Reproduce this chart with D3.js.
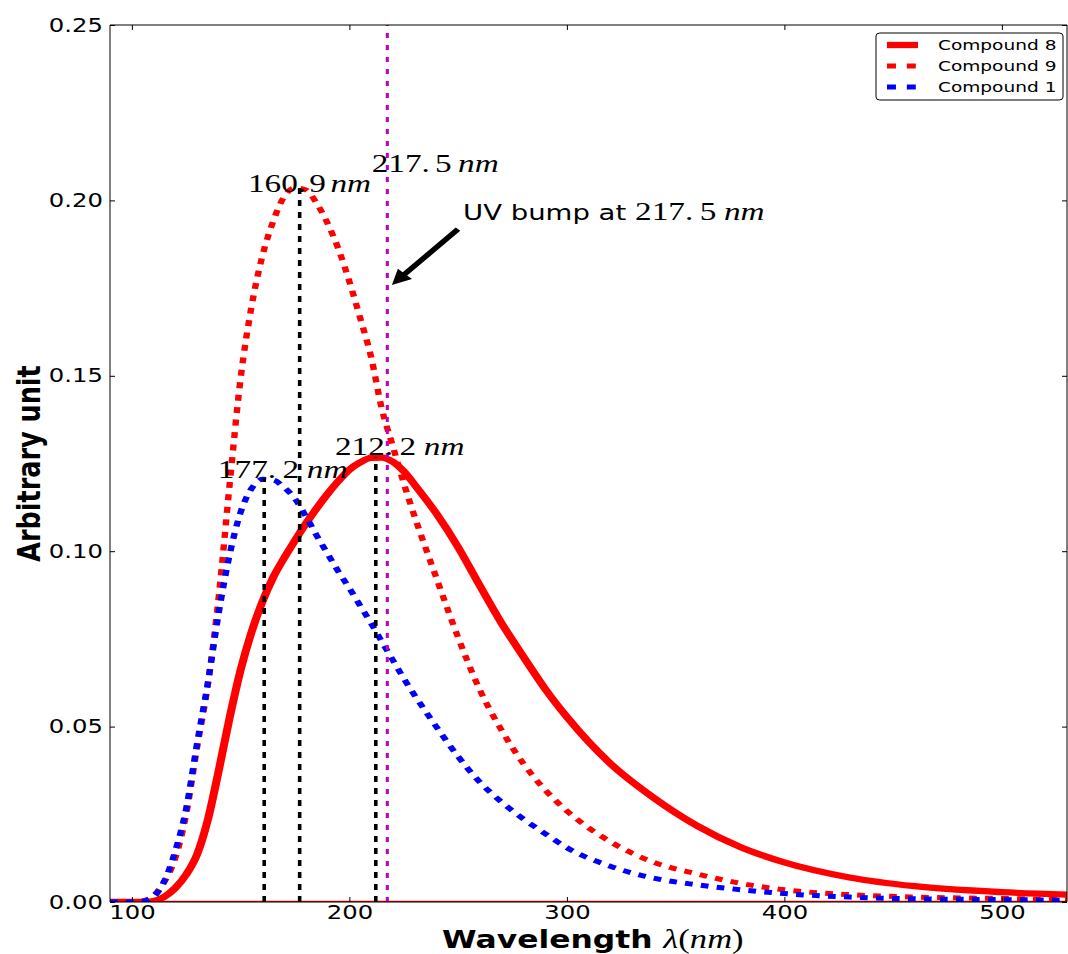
<!DOCTYPE html>
<html>
<head>
<meta charset="utf-8">
<script src="https://cdn.jsdelivr.net/npm/d3@7/dist/d3.min.js"></script>
<style>
  html, body { margin: 0; padding: 0; background: #fff; }
  svg { display: block; }
</style>
</head>
<body>
<svg id="chart"></svg>
<script>
// ── data ─────────────────────────────────────────────────
const wavelength = [90, 100, 105, 110, 115, 120, 125, 130, 135, 140, 145, 150, 155, 160, 165, 170, 175, 180, 185, 190, 195, 200,
  205, 210, 215, 220, 225, 230, 240, 250, 260, 270, 280, 290, 300, 320, 340, 360, 380, 400, 430, 460, 500, 530];
const compound8 = [0, 0, 0, 0.0003, 0.0015, 0.0040, 0.0078, 0.0135, 0.0235, 0.0375, 0.0525, 0.0660, 0.0768, 0.0855, 0.0925, 0.0980,
  0.1030, 0.1078, 0.1122, 0.1163, 0.1200, 0.1232, 0.1253, 0.1266, 0.1267, 0.1255, 0.1228, 0.1190, 0.1108, 0.1012, 0.0902, 0.0795,
  0.0700, 0.0608, 0.0528, 0.0395, 0.0297, 0.0217, 0.0156, 0.0113, 0.0070, 0.0045, 0.0028, 0.0021];
const compound9 = [0, 0, 0.0003, 0.0018, 0.0058, 0.0125, 0.0250, 0.0440, 0.0620, 0.0870, 0.1190, 0.1490, 0.1695, 0.1840, 0.1940,
  0.2010, 0.2036, 0.2030, 0.1992, 0.1935, 0.1862, 0.1770, 0.1665, 0.1555, 0.1405, 0.1300, 0.1195, 0.1100, 0.0925, 0.0755, 0.0605,
  0.0490, 0.0395, 0.0320, 0.0260, 0.0172, 0.0113, 0.0080, 0.0053, 0.0035, 0.0021, 0.0014, 0.0010, 0.0007];
const compound1 = [0, 0, 0.0002, 0.0015, 0.0060, 0.0145, 0.0265, 0.0450, 0.0625, 0.0825, 0.0990, 0.1110, 0.1178, 0.1205, 0.1203,
  0.1182, 0.1150, 0.1100, 0.1045, 0.0993, 0.0942, 0.0895, 0.0845, 0.0795, 0.0742, 0.0690, 0.0638, 0.0590, 0.0500, 0.0415, 0.0342,
  0.0285, 0.0237, 0.0195, 0.0155, 0.0102, 0.0068, 0.0049, 0.0035, 0.0024, 0.0014, 0.0009, 0.0007, 0.0005];

const seriesNames = ['Compound 8', 'Compound 9', 'Compound 1'];
const peakWl = [160.9, 177.2, 212.2];
const peakVal = [0.1208, 0.2035, 0.1268];
const peakText = ['177.2', '160.9', '212.2'];   // labels as printed (swapped in the original)
const bumpWl = 217.5;
const xTicks = [100, 200, 300, 400, 500];
const yTicks = [0, 0.05, 0.10, 0.15, 0.20, 0.25];

// ── layout ───────────────────────────────────────────────
// the reference is stretched sideways, so draw in a narrower box and let the viewBox stretch it
const W = 1068, H = 954, SX = 1.28;
const VW = W / SX;
const mLeft = 110 / SX, mRight = 1067 / SX, mTop = 25, mBottom = 902;

const svg = d3.select('#chart')
  .attr('width', W).attr('height', H)
  .attr('viewBox', `0 0 ${VW} ${H}`)
  .attr('preserveAspectRatio', 'none');

svg.append('rect').attr('width', VW).attr('height', H).attr('fill', '#fff');

const x = d3.scaleLinear().domain([90, 530]).range([mLeft, mRight]);
const y = d3.scaleLinear().domain([0, 0.25]).range([mBottom, mTop]);

svg.append('clipPath').attr('id', 'plot-clip')
  .append('rect').attr('x', mLeft).attr('y', mTop).attr('width', mRight - mLeft).attr('height', mBottom - mTop);

const plot = svg.append('g').attr('clip-path', 'url(#plot-clip)');

// zero line
plot.append('line')
  .attr('x1', mLeft).attr('x2', mRight).attr('y1', y(0)).attr('y2', y(0))
  .attr('stroke', '#ff0000').attr('stroke-width', 2.5);

const series = [
  { name: seriesNames[0], vals: compound8, color: '#ff0000', dash: null, width: 6.3 },
  { name: seriesNames[1], vals: compound9, color: '#ff0000', dash: '6,6.5', width: 5 },
  { name: seriesNames[2], vals: compound1, color: '#0000ff', dash: '6,6.5', width: 5 },
];

const line = d3.line()
  .x((d, i) => x(wavelength[i]))
  .y(d => y(d))
  .curve(d3.curveMonotoneX);

series.forEach(s => {
  plot.append('path')
    .datum(s.vals)
    .attr('d', line)
    .attr('fill', 'none')
    .attr('stroke', s.color)
    .attr('stroke-width', s.width)
    .attr('stroke-dasharray', s.dash)
    .attr('stroke-linejoin', 'round');
});

// peak markers
peakWl.forEach((w, i) => {
  plot.append('line')
    .attr('x1', x(w)).attr('x2', x(w))
    .attr('y1', y(0)).attr('y2', y(peakVal[i]))
    .attr('stroke', '#000').attr('stroke-width', 2.8)
    .attr('stroke-dasharray', '6,6');
});

// UV bump line
plot.append('line')
  .attr('x1', x(bumpWl)).attr('x2', x(bumpWl))
  .attr('y1', y(0)).attr('y2', y(0.25))
  .attr('stroke', '#bf00bf').attr('stroke-width', 2.4)
  .attr('stroke-dasharray', '5,7');

// ── axes ─────────────────────────────────────────────────
svg.append('rect')
  .attr('x', mLeft).attr('y', mTop).attr('width', mRight - mLeft).attr('height', mBottom - mTop)
  .attr('fill', 'none').attr('stroke', '#000').attr('stroke-width', 1)
  .attr('vector-effect', 'non-scaling-stroke');

const tickFont = 'DejaVu Sans, Verdana, sans-serif';

const xAxis = svg.append('g').attr('transform', `translate(0,${mBottom})`)
  .call(d3.axisBottom(x).tickValues(xTicks).tickFormat(d3.format('d')).tickSize(-5).tickPadding(3));
const xTopAxis = svg.append('g').attr('transform', `translate(0,${mTop})`)
  .call(d3.axisTop(x).tickValues(xTicks).tickFormat('').tickSize(-5));
const yAxis = svg.append('g').attr('transform', `translate(${mLeft},0)`)
  .call(d3.axisLeft(y).tickValues(yTicks).tickFormat(d3.format('.2f')).tickSize(-5 / SX).tickPadding(5.5));
const yRightAxis = svg.append('g').attr('transform', `translate(${mRight},0)`)
  .call(d3.axisRight(y).tickValues(yTicks).tickFormat('').tickSize(-5 / SX));

[xAxis, xTopAxis, yAxis, yRightAxis].forEach(a => {
  a.select('.domain').remove();
  a.selectAll('.tick line').attr('stroke', '#000').attr('stroke-width', 1).attr('vector-effect', 'non-scaling-stroke');
  a.selectAll('text').attr('font-family', tickFont).attr('font-size', 19).attr('fill', '#000');
});

// axis titles
const serif = 'Liberation Serif, Times New Roman, serif';
const xTitle = svg.append('text')
  .attr('x', x(312)).attr('y', 948)
  .attr('text-anchor', 'middle')
  .attr('fill', '#000');
xTitle.append('tspan').attr('font-family', tickFont).attr('font-weight', 'bold').attr('font-size', 24.5).text('Wavelength ');
xTitle.append('tspan').attr('font-family', serif).attr('font-style', 'italic').attr('font-size', 27).text('λ');
xTitle.append('tspan').attr('font-family', serif).attr('font-size', 27).text('(');
xTitle.append('tspan').attr('font-family', serif).attr('font-style', 'italic').attr('font-size', 27).text('nm');
xTitle.append('tspan').attr('font-family', serif).attr('font-size', 27).text(')');

svg.append('text')
  .attr('transform', `translate(${40 / SX},${(mTop + mBottom) / 2}) rotate(-90)`)
  .attr('text-anchor', 'middle')
  .attr('font-family', tickFont).attr('font-weight', 'bold').attr('font-size', 25.5)
  .attr('fill', '#000')
  .text('Arbitrary unit');

// ── annotations ──────────────────────────────────────────
const labFs = 26;

function nmLabel(sel, num, gap) {
  const [a, b] = num.split('.');
  sel.append('tspan').text(a + '.');
  sel.append('tspan').attr('dx', gap).text(b);
  sel.append('tspan').attr('dx', gap + 1).attr('font-style', 'italic').text('nm');
}

const labelPos = [
  { x: 139.6, y: 0.1209 },
  { x: 153.4, y: 0.2024 },
  { x: 193.4, y: 0.1274 },
];
peakText.forEach((t, i) => {
  const el = svg.append('text')
    .attr('x', x(labelPos[i].x)).attr('y', y(labelPos[i].y))
    .attr('font-family', serif).attr('font-size', labFs).attr('fill', '#000');
  nmLabel(el, t, i === 1 ? 2.5 : 5);
});

const bumpLab = svg.append('text')
  .attr('x', x(210.3)).attr('y', y(0.2080))
  .attr('font-family', serif).attr('font-size', labFs).attr('fill', '#000');
nmLabel(bumpLab, '217.5', 4);

const uv = svg.append('text')
  .attr('x', x(252.3)).attr('y', y(0.1944))
  .attr('fill', '#000');
uv.append('tspan').attr('font-family', tickFont).attr('font-size', 21.5).text('UV bump at ');
uv.append('tspan').attr('font-family', serif).attr('font-size', labFs).text('217.');
uv.append('tspan').attr('font-family', serif).attr('font-size', labFs).attr('dx', 5).text('5');
uv.append('tspan').attr('font-family', serif).attr('font-size', labFs).attr('font-style', 'italic').attr('dx', 6).text('nm');

// arrow
(function () {
  const x0 = x(250), y0 = y(0.1918), x1 = x(219.6), y1 = y(0.1759);
  const dx = x1 - x0, dy = y1 - y0, len = Math.hypot(dx, dy);
  const ux = dx / len, uy = dy / len, nx = -uy, ny = ux;
  const sw = 2.4, hw = 7.5, hl = 15;
  const bx = x1 - ux * hl, by = y1 - uy * hl;
  const pts = [
    [x0 + nx * sw, y0 + ny * sw], [bx + nx * sw, by + ny * sw], [bx + nx * hw, by + ny * hw],
    [x1, y1],
    [bx - nx * hw, by - ny * hw], [bx - nx * sw, by - ny * sw], [x0 - nx * sw, y0 - ny * sw],
  ];
  svg.append('polygon').attr('points', pts.map(p => p.join(',')).join(' ')).attr('fill', '#000');
})();

// ── legend ───────────────────────────────────────────────
const lg = svg.append('g');
lg.append('rect')
  .attr('x', 876 / SX).attr('y', 33).attr('width', (1063 - 876) / SX).attr('height', 67)
  .attr('rx', 3).attr('fill', '#fff').attr('stroke', '#000').attr('stroke-width', 1)
  .attr('vector-effect', 'non-scaling-stroke');
series.forEach((s, i) => {
  const ly = 45 + i * 21;
  lg.append('line')
    .attr('x1', 887 / SX).attr('x2', 918 / SX).attr('y1', ly).attr('y2', ly)
    .attr('stroke', s.color).attr('stroke-width', s.width)
    .attr('stroke-dasharray', s.dash ? '7,8.5' : null);
  lg.append('text')
    .attr('x', 938 / SX).attr('y', ly + 5)
    .attr('font-family', tickFont).attr('font-size', 14.5).attr('fill', '#000')
    .text(s.name);
});
</script>
</body>
</html>
